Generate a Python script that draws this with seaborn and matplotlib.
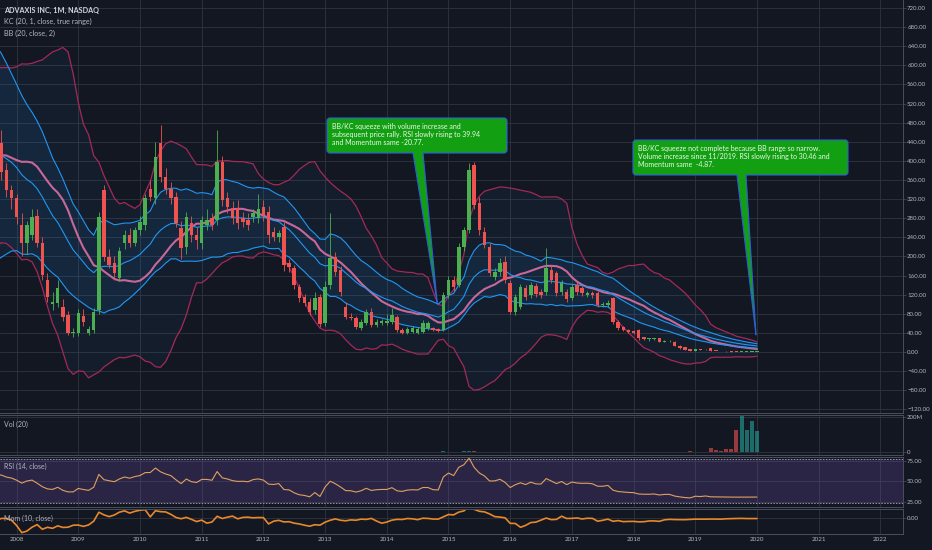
import numpy as np
import pandas as pd
import seaborn as sns
import matplotlib.pyplot as plt
from matplotlib.patches import FancyBboxPatch, Polygon

# ADXS monthly bars, 2006-02 .. 2020-01 (first 20 bars are warm-up for the 20-bar bands)
FIRST_MONTH = "2006-02-01"

opens = [
    280, 300, 350, 420, 380, 300, 260, 320, 400, 460, 420, 380, 340, 370, 480, 620, 615, 525, 400, 460,
    437, 381, 339,
    322, 266, 228, 245, 285, 228, 151, 100, 103, 94, 77, 40,            # 2008
    40, 75, 40, 46, 88, 339, 199, 186, 155, 228, 245, 228,              # 2009
    255, 266, 341, 322, 437, 366, 341, 324, 260, 220, 270, 245,         # 2010
    228, 266, 280, 276, 398, 322, 301, 301, 280, 276, 283, 280,         # 2011
    303, 293, 251, 241, 262, 186, 176, 136, 115, 105, 88, 115,          # 2012
    61, 140, 199, 172, 94, 73, 71, 50, 61, 84, 57, 61,                  # 2013
    61, 63, 73, 46, 40, 42, 40, 42, 50, 50, 48, 46,                     # 2014
    119, 151, 140, 220, 255, 391, 312, 251, 220, 157, 167, 188,         # 2015
    144, 84, 94, 134, 119, 138, 126, 126, 172, 165, 126, 126,           # 2016
    113, 140, 134, 120, 123, 123, 98, 98, 113, 63, 52, 46,              # 2017
    44, 46, 31, 27, 27, 29, 21, 22, 21, 13, 10, 6,                      # 2018
    2, 5, 6.5, 8, 2, 1.6, 1.4, 1.1, 0.9, 0.6, 0.7, 0.7,                 # 2019
    0.7,
]
highs = [
    400, 450, 520, 500, 430, 380, 400, 480, 560, 540, 500, 460, 470, 580, 740, 760, 680, 580, 560, 500,
    465, 395, 350,
    330, 290, 275, 300, 300, 240, 165, 125, 150, 110, 85, 50,
    90, 90, 55, 92, 292, 350, 215, 200, 220, 255, 260, 262,
    285, 330, 360, 440, 475, 385, 355, 335, 275, 292, 285, 262,
    285, 300, 290, 465, 410, 335, 315, 318, 292, 290, 300, 330,
    318, 305, 262, 256, 272, 195, 182, 142, 122, 112, 125, 122,
    148, 291, 210, 180, 104, 82, 76, 70, 90, 92, 68, 70,
    80, 92, 78, 50, 52, 54, 52, 66, 64, 53, 50, 125,
    160, 158, 228, 262, 395, 398, 325, 262, 228, 175, 196, 200,
    150, 122, 142, 140, 146, 145, 132, 218, 180, 170, 150, 132,
    142, 146, 138, 128, 127, 128, 104, 108, 116, 66, 55, 48,
    46, 48, 32, 29, 30, 30, 25, 25, 22, 14, 11, 7,
    7, 6, 7, 9, 2.5, 1.9, 1.5, 1.2, 1.0, 0.9, 0.85, 0.9,
    0.85,
]
lows = [
    200, 220, 280, 290, 220, 180, 200, 260, 330, 320, 290, 250, 270, 330, 440, 500, 430, 330, 350, 300,
    360, 325, 300,
    268, 200, 205, 235, 220, 150, 105, 88, 95, 65, 35, 32,
    34, 55, 35, 40, 80, 190, 175, 150, 148, 215, 220, 222,
    245, 255, 315, 310, 355, 330, 310, 262, 195, 205, 230, 215,
    215, 255, 255, 265, 305, 290, 268, 258, 262, 255, 272, 270,
    275, 228, 232, 230, 170, 168, 132, 104, 96, 78, 80, 52,
    55, 132, 160, 118, 68, 66, 48, 45, 56, 52, 52, 56,
    57, 58, 42, 37, 37, 39, 37, 40, 46, 43, 41, 44,
    112, 128, 135, 212, 248, 300, 245, 218, 160, 150, 160, 145,
    80, 78, 90, 108, 112, 115, 112, 120, 145, 118, 120, 105,
    108, 120, 118, 116, 112, 94, 94, 94, 58, 46, 44, 40,
    38, 25, 25, 24, 25, 20, 20, 21, 12, 7, 3.5, 1.5,
    1.8, 3.5, 5, 1.5, 1.4, 1.2, 1.0, 0.8, 0.6, 0.55, 0.6, 0.6,
    0.62,
]
closes = [
    300, 350, 420, 380, 300, 260, 320, 400, 460, 420, 380, 340, 370, 480, 620, 615, 525, 400, 460, 360,
    377, 339, 322,
    283, 228, 266, 283, 228, 161, 115, 104, 134, 73, 40, 40,
    82, 63, 48, 84, 283, 199, 182, 165, 211, 245, 228, 255,
    272, 322, 324, 408, 366, 341, 322, 270, 218, 283, 245, 234,
    276, 276, 266, 398, 318, 303, 280, 270, 272, 266, 291, 299,
    287, 245, 241, 249, 182, 178, 140, 113, 103, 84, 113, 58,
    136, 197, 167, 126, 73, 71, 52, 63, 84, 57, 63, 65,
    65, 77, 46, 40, 48, 50, 48, 61, 61, 46, 44, 119,
    151, 136, 220, 255, 381, 308, 255, 224, 165, 167, 186, 151,
    84, 115, 136, 115, 140, 121, 119, 176, 151, 123, 144, 111,
    136, 126, 123, 124, 119, 98, 98, 103, 63, 50, 46, 42,
    40, 29, 27, 27, 28, 21, 23, 23, 13, 8, 4, 2,
    6, 4.5, 5.67, 2, 1.6, 1.4, 1.1, 0.9, 0.7, 0.75, 0.8, 0.75,
    0.8,
]

# volume in millions, from 2014-09 on (earlier bars are invisible at this scale)
VOL_FIRST_MONTH = "2014-09-01"
volume_m = [
    1.5, 1.2, 1.0, 3.5, 2.5, 1.8, 2.2, 3.0, 4.0, 3.2, 2.0, 1.6, 1.5, 1.3, 1.2, 1.4, 2.0, 1.5, 1.3, 1.2,
    1.1, 1.0, 1.2, 2.5, 1.4, 1.3, 1.1, 1.0, 1.2, 1.1, 1.0, 0.9, 0.9, 1.3, 1.0, 0.9, 2.2, 1.6, 1.2, 1.0,
    1.0, 1.8, 1.2, 1.0, 1.1, 1.5, 1.2, 1.1, 1.6, 1.8, 2.2, 3.0, 2.6, 2.0, 2.8,
    23, 10, 3, 15, 20, 126, 206, 126, 177, 117,
]

year_labels = [str(y) for y in range(2008, 2023)]
price_ticks = list(range(-120, 721, 40))

note_1 = ("BB/KC squeeze with volume increase and\n"
          "subsequent price rally. RSI slowly rising to 39.94\n"
          "and Momentum same -20.77.")
note_2 = ("BB/KC squeeze not complete because BB range so narrow.\n"
          "Volume increase since 11/2019. RSI slowly rising to 30.46 and\n"
          "Momentum same  -4.87.")

BG = "#131722"
GRID = "#30343f"
EDGE = "#4a4e5c"
TXT = "#b2b5be"
UP = "#4caf50"
DOWN = "#ef5350"
KC_COL = "#2196f3"
BB_COL = "#a3295a"
BB_MID = "#c8689a"

sns.set_theme(style="dark")
plt.rcParams["font.family"] = ["Lato", "DejaVu Sans"]


def month_index(dates):
    return (dates.year - 2008) * 12 + (dates.month - 1)


df = pd.DataFrame({"open": opens, "high": highs, "low": lows, "close": closes})
df["idx"] = month_index(pd.date_range(FIRST_MONTH, periods=len(df), freq="MS"))
c = df["close"]
df["bb_mid"] = c.rolling(20).mean()
sd = c.rolling(20).std(ddof=0)
df["bb_up"] = df["bb_mid"] + 2 * sd
df["bb_lo"] = df["bb_mid"] - 2 * sd
df["kc_mid"] = c.ewm(span=20, adjust=False).mean()
prev = c.shift(1)
tr = pd.concat([df["high"] - df["low"], (df["high"] - prev).abs(), (df["low"] - prev).abs()], axis=1).max(axis=1)
rng = tr.ewm(span=20, adjust=False).mean()
df["kc_up"] = df["kc_mid"] + rng
df["kc_lo"] = df["kc_mid"] - rng
delta = c.diff()
gain = delta.clip(lower=0).ewm(alpha=1 / 14, adjust=False).mean()
loss = (-delta).clip(lower=0).ewm(alpha=1 / 14, adjust=False).mean()
df["rsi"] = 100 - 100 / (1 + gain / loss)
df["mom"] = c - c.shift(10)

vol = pd.DataFrame({"vol": np.array(volume_m) * 1e6})
vol["idx"] = month_index(pd.date_range(VOL_FIRST_MONTH, periods=len(vol), freq="MS"))
vol = vol.merge(df[["idx", "open", "close"]], on="idx")

W, H = 932, 550
XMIN, XMAX = -3.23, 172.4
fig = plt.figure(figsize=(W / 100, H / 100), dpi=100, facecolor=BG)


def panel(top, bottom):
    ax = fig.add_axes([0, 1 - bottom / H, 903 / W, (bottom - top) / H])
    ax.set_facecolor(BG)
    ax.set_xlim(XMIN, XMAX)
    ax.set_xticks(range(0, 169, 12))
    ax.tick_params(axis="x", length=0, labelbottom=False)
    ax.yaxis.tick_right()
    ax.tick_params(axis="y", colors=TXT, labelsize=4.4, length=2, width=0.5, pad=1, color=EDGE)
    ax.grid(True, color=GRID, lw=0.6)
    ax.set_axisbelow(True)
    ax.spines["left"].set_visible(False)
    for s in ["right", "top", "bottom"]:
        ax.spines[s].set_color(EDGE)
        ax.spines[s].set_linewidth(0.7)
    return ax


def fmt(v):
    return f"{v:.2f}".replace("-", "\u2212")


ax_p = panel(0, 413)
ax_v = panel(415, 455)
ax_r = panel(457, 507)
ax_m = panel(509, 534)
ax_p.spines["top"].set_visible(False)

# ---- price panel
ax_p.set_ylim(-127.7, 736.7)
ax_p.set_yticks(price_ticks)
ax_p.set_yticklabels([fmt(v) for v in price_ticks])

ind = df[df["bb_mid"].notna()]
ax_p.fill_between(ind["idx"], ind["bb_lo"], ind["bb_up"], color=KC_COL, alpha=0.05, lw=0)
ax_p.fill_between(ind["idx"], ind["kc_lo"], ind["kc_up"], color=KC_COL, alpha=0.09, lw=0)
for col, colour, lw in [("bb_up", BB_COL, 0.9), ("bb_lo", BB_COL, 0.9), ("bb_mid", BB_MID, 1.5),
                        ("kc_up", KC_COL, 0.8), ("kc_mid", KC_COL, 0.8), ("kc_lo", KC_COL, 0.8)]:
    sns.lineplot(data=ind, x="idx", y=col, ax=ax_p, color=colour, lw=lw, legend=False)

colours = np.where(df["close"] >= df["open"], UP, DOWN)
body_lo = np.minimum(df["open"], df["close"])
body_h = np.maximum((df["close"] - df["open"]).abs(), 1.6)
ax_p.vlines(df["idx"], df["low"], df["high"], color=colours, lw=0.6, zorder=3)
ax_p.bar(df["idx"], body_h, bottom=body_lo, width=0.68, color=colours, lw=0, zorder=4)
ax_p.set_xlabel("")
ax_p.set_ylabel("")

# ---- volume panel
ax_v.set_ylim(-17e6, 211e6)
ax_v.set_yticks([0, 200e6])
ax_v.set_yticklabels(["0", "200M"])
vcol = np.where(vol["close"] >= vol["open"], "#26a69a", "#ef5350")
ax_v.bar(vol["idx"], vol["vol"], width=0.8, color=vcol, alpha=0.6, lw=0)

# ---- RSI panel
ax_r.set_ylim(18.5, 79.9)
ax_r.set_yticks([25, 50, 75])
ax_r.set_yticklabels([fmt(v) for v in [25, 50, 75]])
ax_r.axhspan(23, 77, color="#7e57c2", alpha=0.22, lw=0)
for lvl in (23, 77):
    ax_r.axhline(lvl, color="#9598a1", lw=0.7, ls=(0, (1.5, 1.5)))
rs = df[df["idx"] >= -4]
sns.lineplot(data=rs, x="idx", y="rsi", ax=ax_r, color="#e0a060", lw=0.8, legend=False)
ax_r.set_xlabel("")
ax_r.set_ylabel("")

# ---- momentum panel
ax_m.set_ylim(-429, 257)
ax_m.set_yticks([0])
ax_m.set_yticklabels([fmt(0)])
sns.lineplot(data=rs, x="idx", y="mom", ax=ax_m, color="#e8882a", lw=1.2, legend=False)
ax_m.set_xlabel("")
ax_m.set_ylabel("")
ax_m.tick_params(axis="x", labelbottom=True, labelsize=4.5, colors=TXT, pad=2.5)
ax_m.set_xticklabels(year_labels)

# ---- titles
fig.text(4 / W, 1 - 10 / H, "ADVAXIS INC, 1M, NASDAQ", color="#d1d4dc", fontsize=5.2,
         fontweight="bold", va="center")
fig.text(4 / W, 1 - 21.5 / H, "KC (20, 1, close, true range)", color=TXT, fontsize=5.2, va="center")
fig.text(4 / W, 1 - 33 / H, "BB (20, close, 2)", color=TXT, fontsize=5.2, va="center")
fig.text(4 / W, 1 - 424 / H, "Vol (20)", color=TXT, fontsize=5.0, va="center")
fig.text(4 / W, 1 - 466 / H, "RSI (14, close)", color=TXT, fontsize=5.0, va="center")
fig.text(4 / W, 1 - 518 / H, "Mom (10, close)", color=TXT, fontsize=5.0, va="center")

# ---- callouts, drawn in pixel space on an overlay
ov = fig.add_axes([0, 0, 1, 1])
ov.set_xlim(0, W)
ov.set_ylim(H, 0)
ov.axis("off")
ov.patch.set_alpha(0)


def to_px(ax, x, y):
    dx, dy = ax.transData.transform((x, y))
    return dx, H - dy


def callout(box, base, tip, text):
    x0, y0, x1, y1 = box
    ov.add_patch(FancyBboxPatch((x0, y0), x1 - x0, y1 - y0,
                                boxstyle="round,pad=0,rounding_size=3",
                                fc="#12a012", ec="#2f5fd8", lw=0.8, zorder=5))
    tri = [(base[0], y1 - 1), (base[1], y1 - 1), tip]
    ov.add_patch(Polygon(tri, closed=True, fc="#12a012", ec="none", zorder=6))
    ov.plot([base[0], tip[0]], [y1, tip[1]], color="#2f5fd8", lw=0.8, zorder=7)
    ov.plot([base[1], tip[0]], [y1, tip[1]], color="#2f5fd8", lw=0.8, zorder=7)
    ov.text(x0 + 5, y0 + 4.5, text, color="#eef6ee", fontsize=5.0, va="top", ha="left",
            linespacing=1.2, zorder=8)


callout((327, 118, 507, 153), (413, 423), to_px(ax_p, 81.8, 103), note_1)
callout((633, 140, 848, 175), (737, 746), to_px(ax_p, 143.8, 36), note_2)

fig.savefig("out.png", dpi=100, facecolor=BG)
